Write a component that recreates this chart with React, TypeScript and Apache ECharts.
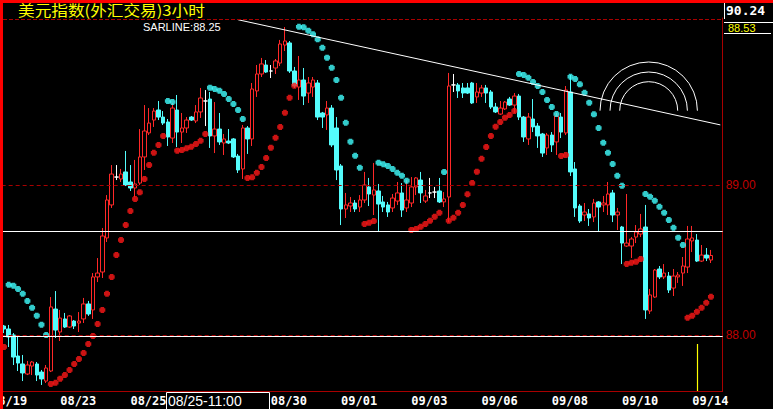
import { useEffect, useRef } from 'react';
import * as echarts from 'echarts';

// 3-hour candles, oldest first
const opens = [
  88.06, 88.04, 88.0, 87.86, 87.807, 87.74, 87.793, 87.807, 87.753, 87.693,
  87.76, 88.173, 88.02, 88.107, 88.053, 88.093, 88.08, 88.107, 88.207, 88.167,
  88.387, 88.42, 88.647, 88.867, 89.053, 89.04, 89.087, 89.02, 88.98, 89.013,
  89.187, 89.347, 89.433, 89.5, 89.453, 89.42, 89.313, 89.5, 89.353, 89.38,
  89.453, 89.427, 89.487, 89.56, 89.573, 89.327, 89.373, 89.28, 89.293, 89.307,
  89.193, 89.107, 89.38, 89.307, 89.627, 89.74, 89.8, 89.76, 89.78, 89.813,
  89.933, 89.947, 89.76, 89.653, 89.7, 89.613, 89.653, 89.68, 89.48, 89.467,
  89.513, 89.38, 89.127, 88.84, 88.86, 88.88, 88.853, 88.9, 88.987, 88.933,
  88.96, 88.887, 88.867, 88.847, 88.893, 88.947, 88.847, 88.88, 88.987, 89.033,
  88.893, 88.947, 88.953, 88.96, 88.887, 88.92, 89.667, 89.667, 89.647, 89.647,
  89.68, 89.587, 89.613, 89.647, 89.62, 89.52, 89.473, 89.507, 89.573, 89.533,
  89.593, 89.453, 89.307, 89.44, 89.393, 89.34, 89.247, 89.333, 89.287, 89.453,
  89.347, 89.62, 89.107, 88.86, 88.8, 88.807, 88.787, 88.887, 88.867, 88.867,
  88.947, 88.8, 88.72, 88.593, 88.593, 88.653, 88.673, 88.72, 88.16, 88.253,
  88.44, 88.387, 88.393, 88.313, 88.387, 88.413, 88.453, 88.627, 88.633, 88.493,
  88.533, 88.5,
];
const closes = [
  88.04, 87.987, 87.853, 87.813, 87.747, 87.8, 87.82, 87.733, 87.707, 87.78,
  88.187, 88.033, 88.113, 88.053, 88.127, 88.06, 88.093, 88.207, 88.14, 88.387,
  88.413, 88.66, 88.9, 89.073, 89.053, 89.073, 89.0, 88.98, 89.007, 89.187,
  89.36, 89.413, 89.493, 89.453, 89.413, 89.32, 89.513, 89.353, 89.38, 89.433,
  89.433, 89.487, 89.58, 89.56, 89.327, 89.373, 89.287, 89.307, 89.28, 89.187,
  89.1, 89.38, 89.307, 89.64, 89.74, 89.807, 89.753, 89.76, 89.827, 89.94,
  89.96, 89.76, 89.66, 89.7, 89.593, 89.68, 89.7, 89.453, 89.453, 89.513,
  89.267, 89.1, 88.84, 88.867, 88.88, 88.84, 88.9, 89.0, 88.94, 88.967,
  88.873, 88.853, 88.82, 88.913, 88.947, 88.833, 88.9, 88.987, 89.047, 88.947,
  88.927, 88.947, 88.953, 88.887, 88.907, 89.66, 89.667, 89.627, 89.613, 89.613,
  89.547, 89.62, 89.647, 89.613, 89.52, 89.487, 89.513, 89.553, 89.533, 89.593,
  89.453, 89.32, 89.453, 89.387, 89.327, 89.213, 89.333, 89.267, 89.46, 89.353,
  89.633, 89.087, 88.847, 88.76, 88.82, 88.78, 88.88, 88.853, 88.88, 88.94,
  88.8, 88.82, 88.613, 88.613, 88.64, 88.687, 88.707, 88.167, 88.267, 88.433,
  88.387, 88.413, 88.3, 88.393, 88.4, 88.46, 88.64, 88.647, 88.493, 88.533,
  88.513, 88.53,
];
const lows = [
  88.013, 87.92, 87.8, 87.76, 87.693, 87.733, 87.733, 87.693, 87.667, 87.68,
  87.753, 87.98, 87.96, 88.047, 88.047, 88.04, 88.02, 88.08, 88.127, 88.107,
  88.353, 88.38, 88.62, 88.847, 89.033, 89.02, 88.993, 88.96, 88.92, 89.0,
  89.1, 89.333, 89.387, 89.433, 89.4, 89.26, 89.28, 89.253, 89.28, 89.347,
  89.427, 89.413, 89.447, 89.393, 89.247, 89.213, 89.267, 89.2, 89.273, 89.18,
  89.08, 89.04, 89.207, 89.26, 89.587, 89.72, 89.747, 89.713, 89.74, 89.793,
  89.893, 89.747, 89.647, 89.567, 89.533, 89.547, 89.587, 89.433, 89.38, 89.367,
  89.253, 89.033, 88.733, 88.78, 88.82, 88.82, 88.82, 88.88, 88.86, 88.8,
  88.693, 88.82, 88.787, 88.82, 88.867, 88.787, 88.82, 88.853, 88.933, 88.88,
  88.88, 88.913, 88.913, 88.88, 88.853, 88.753, 89.62, 89.58, 89.58, 89.607,
  89.54, 89.547, 89.587, 89.547, 89.507, 89.48, 89.467, 89.5, 89.527, 89.48,
  89.433, 89.287, 89.267, 89.353, 89.247, 89.187, 89.2, 89.22, 89.2, 89.313,
  89.333, 89.06, 88.787, 88.747, 88.76, 88.727, 88.753, 88.693, 88.82, 88.8,
  88.753, 88.7, 88.473, 88.587, 88.513, 88.613, 88.653, 88.107, 88.14, 88.247,
  88.373, 88.373, 88.28, 88.26, 88.347, 88.327, 88.413, 88.553, 88.487, 88.487,
  88.493, 88.48,
];
const highs = [
  88.067, 88.067, 88.013, 87.993, 87.867, 87.827, 87.827, 87.82, 87.767, 87.8,
  88.253, 88.293, 88.167, 88.147, 88.133, 88.1, 88.153, 88.247, 88.227, 88.413,
  88.513, 88.713, 88.933, 89.133, 89.133, 89.107, 89.227, 89.133, 89.167, 89.373,
  89.533, 89.513, 89.513, 89.56, 89.493, 89.44, 89.547, 89.6, 89.48, 89.453,
  89.46, 89.533, 89.647, 89.633, 89.62, 89.553, 89.48, 89.34, 89.373, 89.313,
  89.207, 89.4, 89.393, 89.68, 89.8, 89.847, 89.833, 89.8, 89.84, 89.967,
  90.053, 89.96, 89.787, 89.86, 89.78, 89.72, 89.72, 89.7, 89.487, 89.56,
  89.533, 89.453, 89.14, 88.947, 88.92, 88.9, 88.933, 89.087, 89.047, 89.147,
  89.007, 88.927, 88.887, 88.94, 89.02, 89.013, 89.033, 89.053, 89.053, 89.087,
  88.967, 89.047, 88.987, 89.047, 88.953, 89.747, 89.74, 89.68, 89.68, 89.68,
  89.687, 89.68, 89.667, 89.667, 89.633, 89.547, 89.56, 89.56, 89.587, 89.613,
  89.607, 89.46, 89.48, 89.573, 89.413, 89.347, 89.347, 89.353, 89.48, 89.48,
  89.66, 89.733, 89.153, 88.873, 88.88, 88.84, 88.907, 88.893, 88.927, 89.02,
  88.967, 88.847, 88.727, 88.94, 88.653, 88.733, 88.807, 88.867, 88.307, 88.44,
  88.46, 88.473, 88.42, 88.44, 88.42, 88.52, 88.727, 88.727, 88.673, 88.6,
  88.58, 88.567,
];

// Parabolic SAR, one value per candle
const sarValues = [
  87.92, 88.335, 88.329, 88.307, 88.275, 88.227, 88.182, 88.129, 88.069, 88.0,
  87.673, 87.682, 87.709, 87.733, 87.767, 87.807, 87.84, 87.88, 87.94, 87.993,
  88.073, 88.167, 88.275, 88.387, 88.533, 88.633, 88.733, 88.827, 88.907, 88.951,
  89.04, 89.133, 89.215, 89.267, 89.327, 89.56, 89.553, 89.229, 89.233, 89.245,
  89.255, 89.273, 89.295, 89.34, 89.649, 89.64, 89.629, 89.607, 89.573, 89.54,
  89.5, 89.44, 89.047, 89.051, 89.082, 89.12, 89.18, 89.249, 89.315, 89.387,
  89.482, 89.582, 89.662, 90.055, 90.051, 90.029, 90.005, 89.971, 89.915, 89.849,
  89.782, 89.7, 89.582, 89.415, 89.289, 89.195, 89.115, 88.74, 88.749, 88.76,
  89.149, 89.138, 89.127, 89.107, 89.082, 89.062, 89.029, 88.7, 88.707, 88.722,
  88.74, 88.762, 88.789, 88.815, 89.087, 88.762, 88.782, 88.815, 88.867, 88.938,
  89.013, 89.089, 89.175, 89.253, 89.327, 89.389, 89.42, 89.449, 89.467, 89.493,
  89.74, 89.733, 89.715, 89.687, 89.66, 89.62, 89.567, 89.52, 89.473, 89.193,
  89.2, 89.722, 89.707, 89.671, 89.615, 89.549, 89.471, 89.38, 89.282, 89.215,
  89.14, 89.062, 88.995, 88.473, 88.482, 88.489, 88.507, 88.94, 88.922, 88.895,
  88.855, 88.815, 88.767, 88.715, 88.649, 88.6, 88.115, 88.129, 88.155, 88.182,
  88.215, 88.255,
];
// SAR trend runs: 'u' = below price (red), 'd' = above price (cyan)
const sarRuns: [string, number][] = [
  ['u', 1], ['d', 9], ['u', 25], ['d', 2], ['u', 7], ['d', 8], ['u', 11], ['d', 14],
  ['u', 3], ['d', 7], ['u', 7], ['d', 1], ['u', 15], ['d', 9], ['u', 2], ['d', 12],
  ['u', 4], ['d', 9], ['u', 6],
];

const dateLabelIdx = [12, 27, 57, 72, 87, 102, 117, 132, 147];
const dateLabels = ['08/23', '08/25', '08/30', '09/01', '09/03', '09/06', '09/08', '09/10', '09/14'];
const slotCount = 154;

const supportLevels = [88.693, 87.994];
const gridLevels = [89, 88];
const trendStart: [number, number] = [50, 90.1017];
const trendEnd: [number, number] = [153, 89.4007];

const UP = '#ff2828';
const DOWN = '#54fcfc';
const DARKRED = '#a80000';

export default function App() {
  const ref = useRef<HTMLDivElement>(null);
  useEffect(() => {
    document.body.style.margin = '0';
    document.body.style.background = '#000';
    if (!ref.current) return;
    const chart = echarts.init(ref.current, undefined, { renderer: 'svg' });

    const categories = Array.from({ length: slotCount }, (_, i) => 'k' + i);
    const candles = opens.map((o, i) => [o, closes[i], lows[i], highs[i]]);
    const sides: string[] = [];
    sarRuns.forEach(([s, n]) => { for (let k = 0; k < n; k++) sides.push(s); });
    const sarUp = sarValues.map((v, i) => (sides[i] === 'u' ? v : '-'));
    const sarDown = sarValues.map((v, i) => (sides[i] === 'd' ? v : '-'));
    const labelMap: Record<number, string> = {};
    dateLabelIdx.forEach((idx, k) => { labelMap[idx] = dateLabels[k]; });

    const dot = 'path://M1,0H4V1H5V4H4V5H1V4H0V1H1Z';
    const white = { color: '#ffffff', type: 'solid' as const, width: 1 };

    chart.setOption({
      animation: false,
      backgroundColor: '#000000',
      grid: { left: 1.66, right: 50.34, top: 18, bottom: 18 },
      xAxis: {
        type: 'category',
        data: categories,
        boundaryGap: true,
        axisLine: { show: true, lineStyle: { color: DARKRED, width: 1 } },
        axisTick: { show: false },
        splitLine: { show: false },
        axisLabel: {
          interval: (idx: number) => labelMap[idx] !== undefined,
          formatter: (_v: string, idx: number) => labelMap[idx] ?? '',
          color: '#ffffff',
          fontFamily: 'DejaVu Sans Mono',
          fontWeight: 'bold',
          fontSize: 12,
          align: 'left',
          margin: 4,
        },
      },
      yAxis: {
        type: 'value',
        position: 'right',
        min: 87.6267,
        max: 90.1133,
        axisLine: { show: true, lineStyle: { color: DARKRED, width: 1 } },
        axisTick: { show: false },
        splitLine: { show: false },
        axisLabel: {
          customValues: gridLevels,
          formatter: (v: number) => v.toFixed(2),
          color: '#c00000',
          fontFamily: 'Liberation Sans',
          fontSize: 12,
          margin: 3,
        },
      },
      series: [
        {
          type: 'candlestick',
          data: candles,
          barWidth: 4,
          itemStyle: {
            color: '#000000',
            color0: DOWN,
            borderColor: UP,
            borderColor0: DOWN,
            borderColorDoji: '#ffffff',
            borderWidth: 1,
          },
          emphasis: { disabled: true },
          markLine: {
            silent: true,
            symbol: ['none', 'none'],
            label: { show: false },
            lineStyle: white,
            data: [
              ...gridLevels.map((v) => ({ yAxis: v, lineStyle: { color: DARKRED, type: [4, 3], width: 1 } })),
              ...supportLevels.map((v) => ({ yAxis: v, lineStyle: white })),
              [
                { coord: trendStart, lineStyle: white },
                { coord: trendEnd, lineStyle: white },
              ],
            ],
          },
        },
        {
          type: 'scatter',
          data: sarUp,
          symbol: dot,
          symbolSize: 6,
          itemStyle: { color: '#ff1818' },
          emphasis: { disabled: true },
          z: 3,
        },
        {
          type: 'scatter',
          data: sarDown,
          symbol: dot,
          symbolSize: 6,
          itemStyle: { color: '#40ffff' },
          emphasis: { disabled: true },
          z: 3,
        },
      ],
      graphic: [
        { type: 'rect', shape: { x: 0, y: 0, width: 773, height: 3 }, style: { fill: '#ff0000' }, z: 100 },
        { type: 'rect', shape: { x: 0, y: 0, width: 3, height: 409 }, style: { fill: '#ff0000' }, z: 100 },
        { type: 'line', shape: { x1: 3, y1: 19.5, x2: 723, y2: 19.5 }, style: { stroke: DARKRED, lineWidth: 1, lineDash: [4, 2] }, z: 10 },
        { type: 'line', shape: { x1: 724.5, y1: 3, x2: 724.5, y2: 19 }, style: { stroke: '#ffffff', lineWidth: 1 }, z: 10 },
        { type: 'line', shape: { x1: 724, y1: 22.5, x2: 773, y2: 22.5 }, style: { stroke: '#ffffff', lineWidth: 1 }, z: 10 },
        { type: 'line', shape: { x1: 724, y1: 33.5, x2: 771, y2: 33.5 }, style: { stroke: '#ffffff', lineWidth: 1 }, z: 10 },
        {
          type: 'text', z: 10, x: 18, y: 10, scaleX: 1.11,
          style: { text: '美元指数(外汇交易)3小时', x: 0, y: 0, fill: '#ffff00', font: '15px "Noto Sans CJK SC"', verticalAlign: 'middle' },
        },
        {
          type: 'text', z: 10,
          style: { text: 'SARLINE:88.25', x: 143, y: 26.5, fill: '#ffffff', font: '11px "Liberation Sans"', verticalAlign: 'middle' },
        },
        {
          type: 'text', z: 10,
          style: { text: '90.24', x: 726, y: 10, fill: '#ffffff', font: 'bold 13px "DejaVu Sans Mono"', verticalAlign: 'middle' },
        },
        {
          type: 'text', z: 10,
          style: { text: '88.53', x: 728, y: 28, fill: '#ffff00', font: '11px "Liberation Sans"', verticalAlign: 'middle' },
        },
        {
          type: 'text', z: 10,
          style: { text: '08/19', x: -9, y: 400.5, fill: '#ffffff', font: 'bold 12px "DejaVu Sans Mono"', verticalAlign: 'middle' },
        },
        { type: 'rect', shape: { x: 166.5, y: 392.5, width: 103, height: 20 }, style: { fill: '#000000', stroke: '#ffffff', lineWidth: 1 }, z: 50 },
        {
          type: 'text', z: 51,
          style: { text: '08/25-11:00', x: 168, y: 401, fill: '#ffffff', font: '14px "Liberation Sans"', verticalAlign: 'middle' },
        },
        { type: 'arc', shape: { cx: 648.7, cy: 110.7, r: 48.7, startAngle: Math.PI, endAngle: 2 * Math.PI }, style: { stroke: '#ffffff', fill: 'none', lineWidth: 1 }, z: 10 },
        { type: 'arc', shape: { cx: 648.7, cy: 110.7, r: 38.7, startAngle: Math.PI, endAngle: 2 * Math.PI }, style: { stroke: '#ffffff', fill: 'none', lineWidth: 1 }, z: 10 },
        { type: 'arc', shape: { cx: 648.7, cy: 110.7, r: 29, startAngle: Math.PI, endAngle: 2 * Math.PI }, style: { stroke: '#ffffff', fill: 'none', lineWidth: 1 }, z: 10 },
        { type: 'line', shape: { x1: 697.5, y1: 344, x2: 697.5, y2: 391 }, style: { stroke: '#ffff00', lineWidth: 1.2 }, z: 10 },
      ],
    });
    return () => chart.dispose();
  }, []);
  return <div ref={ref} style={{ width: 773, height: 409 }} />;
}
